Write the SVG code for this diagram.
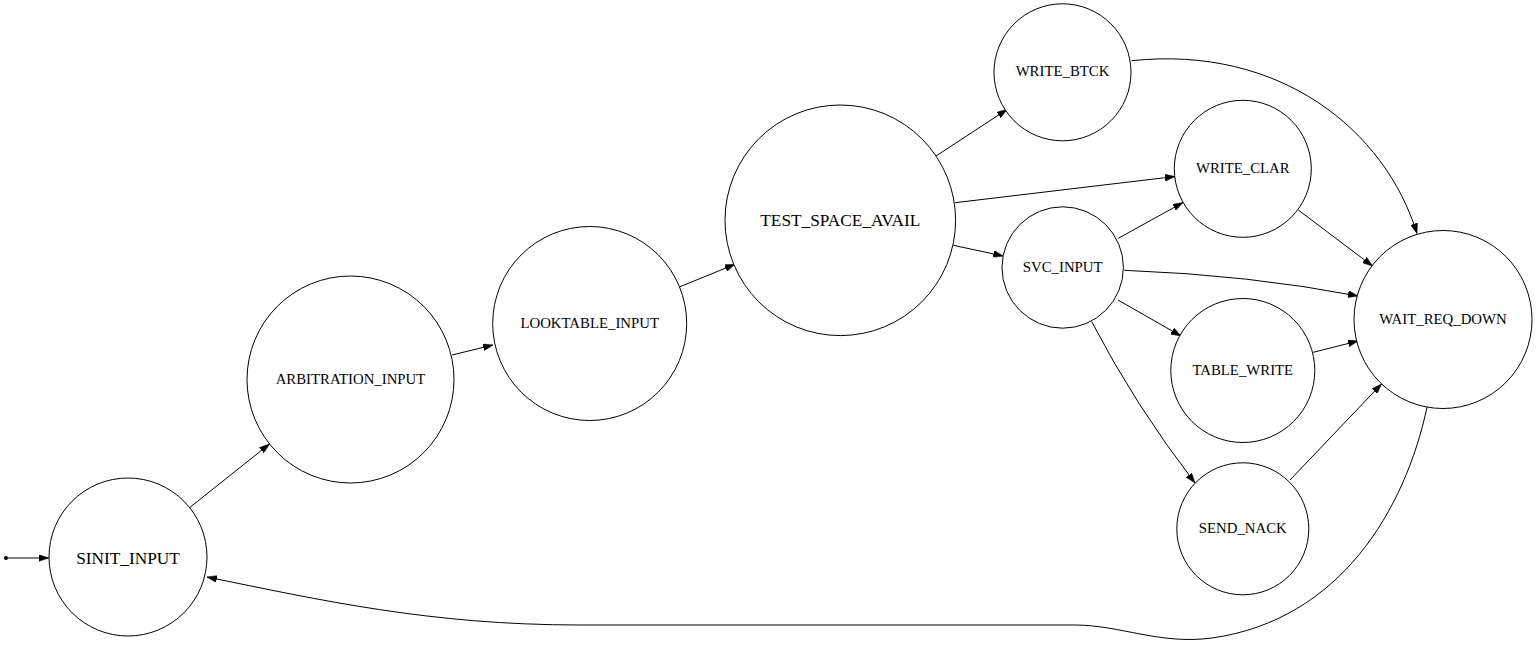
<svg xmlns="http://www.w3.org/2000/svg" width="1536" height="645" viewBox="0 0 1536 645">
<style>
.node circle{fill:#fff;stroke:#000;stroke-width:1}
.node text{font-family:"Liberation Serif","Times New Roman",serif;font-size:14.8px;text-anchor:middle;fill:#000}
.node text.big{font-size:17.3px}
.edges path{fill:none;stroke:#000;stroke-width:1;marker-end:url(#arr)}
</style>
<defs>
<marker id="arr" viewBox="0 0 10 7" refX="10" refY="3.5" markerWidth="10" markerHeight="7" markerUnits="userSpaceOnUse" orient="auto">
<path d="M0,0 L10,3.5 L0,7 z" fill="#000" stroke="#000" stroke-width="0.5"/>
</marker>
</defs>
<rect width="1536" height="645" fill="#fff"/>
<g id="start"><circle cx="6" cy="558" r="2" fill="#000"/></g>
<g class="edges" id="edges">
<path d="M8,558 L48.5,558"/>
<path d="M189.6,507.6 L269.5,444"/>
<path d="M452,355 L493,345"/>
<path d="M680,286.7 L735,264.3"/>
<path d="M936,156 L1007,109.5"/>
<path d="M955,202.7 L1175,176.5"/>
<path d="M953.3,245.3 L1003.3,256"/>
<path d="M1118.3,238.3 L1183,202.5"/>
<path d="M1124.3,270.3 Q1250,275 1358,296"/>
<path d="M1118,300 L1181,336"/>
<path d="M1091.7,321.7 Q1135,405 1195,483"/>
<path d="M1131.7,60.7 C1280,45 1385,130 1417,233.5"/>
<path d="M1298.3,210 L1372.5,266"/>
<path d="M1313.3,352.3 L1358,341"/>
<path d="M1290,480 L1381.5,384"/>
<path d="M1427,407.3 C1405,510 1340,620 1212,638 C1160,645 1120,625 1075,625 L580,625 C430,625 320,600 207,577"/>
</g>
<g class="node" id="SINIT_INPUT"><circle cx="128" cy="557" r="79"/><text class="big" x="128" y="563.5">SINIT_INPUT</text></g>
<g class="node" id="ARBITRATION_INPUT"><circle cx="350.5" cy="379.5" r="103.5"/><text x="350.5" y="383.5">ARBITRATION_INPUT</text></g>
<g class="node" id="LOOKTABLE_INPUT"><circle cx="589.7" cy="323.5" r="97"/><text x="589.7" y="327.5">LOOKTABLE_INPUT</text></g>
<g class="node" id="TEST_SPACE_AVAIL"><circle cx="840.3" cy="220.3" r="115.3"/><text class="big" x="840.3" y="226">TEST_SPACE_AVAIL</text></g>
<g class="node" id="WRITE_BTCK"><circle cx="1062.5" cy="72.3" r="68.5"/><text x="1062.5" y="76.3">WRITE_BTCK</text></g>
<g class="node" id="WRITE_CLAR"><circle cx="1242.8" cy="168.8" r="68.5"/><text x="1242.8" y="173">WRITE_CLAR</text></g>
<g class="node" id="SVC_INPUT"><circle cx="1062.7" cy="267.5" r="60.7"/><text x="1062.7" y="271.7">SVC_INPUT</text></g>
<g class="node" id="WAIT_REQ_DOWN"><circle cx="1443" cy="319.5" r="89"/><text x="1443" y="323.5">WAIT_REQ_DOWN</text></g>
<g class="node" id="TABLE_WRITE"><circle cx="1242.8" cy="370.5" r="72"/><text x="1242.8" y="374.5">TABLE_WRITE</text></g>
<g class="node" id="SEND_NACK"><circle cx="1242.8" cy="528.8" r="66"/><text x="1242.8" y="533">SEND_NACK</text></g>
</svg>
